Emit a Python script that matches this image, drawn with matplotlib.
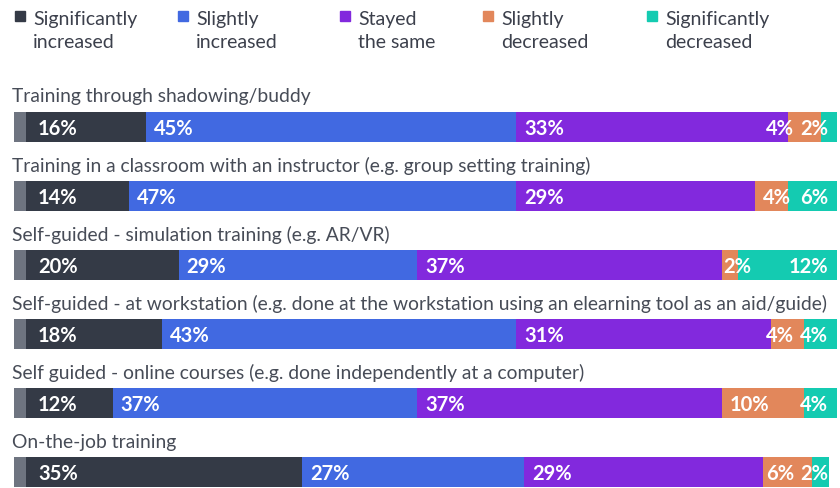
import matplotlib.pyplot as plt
from matplotlib.patches import Rectangle

plt.rcParams["font.family"] = ["Lato", "DejaVu Sans"]

# Data
categories = [
    "Training through shadowing/buddy",
    "Training in a classroom with an instructor (e.g. group setting training)",
    "Self-guided - simulation training (e.g. AR/VR)",
    "Self-guided - at workstation (e.g. done at the workstation using an elearning tool as an aid/guide)",
    "Self guided - online courses (e.g. done independently at a computer)",
    "On-the-job training",
]
series_names = ["Significantly\nincreased", "Slightly\nincreased", "Stayed\nthe same",
                "Slightly\ndecreased", "Significantly\ndecreased"]
sig_increased = [16, 14, 20, 18, 12, 35]
sli_increased = [45, 47, 29, 43, 37, 27]
stayed_same = [33, 29, 37, 31, 37, 29]
sli_decreased = [4, 4, 2, 4, 10, 6]
sig_decreased = [2, 6, 12, 4, 4, 2]

series = [sig_increased, sli_increased, stayed_same, sli_decreased, sig_decreased]
colors = ["#343a46", "#4169e1", "#8229dd", "#e2875b", "#14cbb1"]
stub_color = "#6e7480"
label_color = "#474c57"

W, H = 840, 489
fig = plt.figure(figsize=(W / 100, H / 100), dpi=100)
ax = fig.add_axes([14 / W, 0, 823 / W, 1])
row_gap = 69.1
ax.set_xlim(0, 100)
ax.set_ylim((H - 128) / row_gap, -128 / row_gap)
ax.axis("off")

px = 100 / 823  # data units per pixel
bar_h = 30 / row_gap
y = list(range(len(categories)))

lefts = [0] * len(categories)
texts = []
for vals, c in zip(series, colors):
    ax.barh(y, vals, left=lefts, height=bar_h, color=c, linewidth=0)
    row_texts = []
    for i, v in enumerate(vals):
        t = ax.text(lefts[i], i + 0.01, f"{v}%", color="white", fontsize=14.5,
                    fontweight="bold", ha="left", va="center")
        row_texts.append((t, lefts[i]))
    texts.append(row_texts)
    lefts = [l + v for l, v in zip(lefts, vals)]

# gray stub at the start of each bar
ax.barh(y, 12 * px, left=0, height=bar_h, color=stub_color, linewidth=0)

for i, cat in enumerate(categories):
    ax.text(-0.25, i - 31 / row_gap, cat, color=label_color, fontsize=13.9,
            ha="left", va="center")

# value labels: pad from segment start; last one sits at the right end,
# and crowded labels get pushed left
fig.canvas.draw()
r = fig.canvas.get_renderer()
for i in range(len(categories)):
    limit = 100 - 9 * px
    for k in range(len(series) - 1, -1, -1):
        t, left = texts[k][i]
        w = t.get_window_extent(r).width * px
        seg = series[k][i]
        if k == len(series) - 1:
            x = limit - w
        else:
            pad = 24 * px if k == 0 else (8 * px if seg > 3 else 1 * px)
            x = min(left + pad, limit - w)
        t.set_x(x)
        limit = x - 6 * px

# legend
leg_x = [15, 178, 340, 483, 647]
for x, name, c in zip(leg_x, series_names, colors):
    fig.patches.append(Rectangle((x / W, 1 - 22 / H), 10 / W, 10 / H,
                                 transform=fig.transFigure, color=c))
    for j, line in enumerate(name.split("\n")):
        fig.text((x + 18) / W, 1 - (19 + 24 * j) / H, line, color="#3c404c",
                 fontsize=14, ha="left", va="center")

fig.savefig("out.png", dpi=100)
